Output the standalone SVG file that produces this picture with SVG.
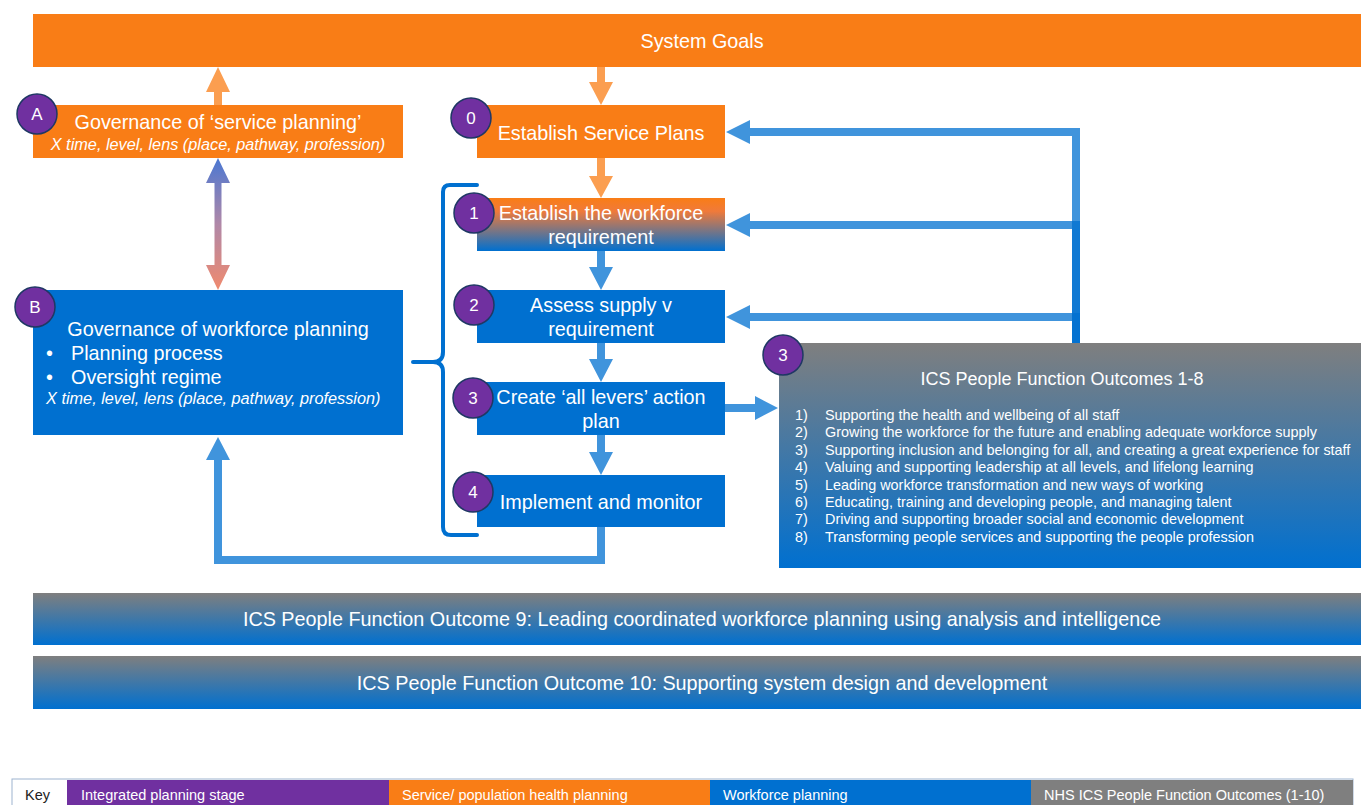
<svg xmlns="http://www.w3.org/2000/svg" width="1361" height="805" viewBox="0 0 1361 805">
  <defs>
    <linearGradient id="gOrangeBlue" x1="0" y1="0" x2="0" y2="1">
      <stop offset="0" stop-color="#F97D16"/>
      <stop offset="0.25" stop-color="#F07A3A"/>
      <stop offset="1" stop-color="#0070D0"/>
    </linearGradient>
    <linearGradient id="gGreyBlue" x1="0" y1="0" x2="0" y2="1">
      <stop offset="0" stop-color="#7F7F7F"/>
      <stop offset="1" stop-color="#0070D0"/>
    </linearGradient>
    <linearGradient id="gGov" gradientUnits="userSpaceOnUse" x1="0" y1="158" x2="0" y2="290">
      <stop offset="0" stop-color="#4A77D2"/>
      <stop offset="0.5" stop-color="#B088A8"/>
      <stop offset="1" stop-color="#F08A6E"/>
    </linearGradient>
    <style>
      text { font-family: "Liberation Sans", Arial, sans-serif; fill: #FFFFFF; }
      .orange { fill: #F97D16; }
      .blue { fill: #0070D0; }
      .grey { fill: #7F7F7F; }
      .purple { fill: #7030A0; }
      .step circle { fill: #7030A0; stroke: #1F3864; stroke-width: 1.5; }
      .step text { font-size: 17px; text-anchor: middle; }
      .t20 { font-size: 19.8px; }
      .t18 { font-size: 18px; }
      .mid { text-anchor: middle; }
      .ital { font-size: 16.3px; font-style: italic; }
      .list { font-size: 14.4px; }
      .key { font-size: 14.5px; }
      .arr-o { fill: #F97D16; fill-opacity: 0.75; }
      .arr-b { fill: #0070D0; fill-opacity: 0.75; }
      .brace { fill: none; stroke: #0070D0; stroke-width: 4; stroke-linecap: round; }
    </style>
  </defs>

  <rect width="1361" height="805" fill="#FFFFFF"/>

  <!-- System goals banner -->
  <g id="system-goals">
    <rect class="orange" x="33" y="14" width="1328" height="53"/>
    <text class="t20 mid" x="702" y="48">System Goals</text>
  </g>

  <!-- Connectors -->
  <g id="connectors">
    <!-- A up to system goals -->
    <path class="arr-o" d="M214,105 V92 H206 L218,67 L230,92 H222 V105 Z"/>
    <!-- system goals down to 0 -->
    <path class="arr-o" d="M597,67 H605 V82 H613 L601,105 L589,82 H597 Z"/>
    <!-- 0 to 1 -->
    <path class="arr-o" d="M597,158 H605 V176 H613 L601,198 L589,176 H597 Z"/>
    <!-- A <-> B -->
    <path fill="url(#gGov)" d="M218,158 L230,183 H221.5 V265 H230 L218,290 L206,265 H214.5 V183 H206 Z"/>
    <!-- workforce steps -->
    <path class="arr-b" d="M597,251 H605 V267 H613 L601,290 L589,267 H597 Z"/>
    <path class="arr-b" d="M597,343 H605 V359 H613 L601,382 L589,359 H597 Z"/>
    <path class="arr-b" d="M597,435 H605 V452 H613 L601,475 L589,452 H597 Z"/>
    <!-- 3 to outcomes -->
    <path class="arr-b" d="M725,404 H755 V396 L778,408 L755,420 V412 H725 Z"/>
    <!-- outcomes feedback to 0, 1, 2 -->
    <path class="arr-b" d="M1072,343 V136 H750 V144 L726,132 L750,120 V128 H1080 V343 Z"/>
    <path class="arr-b" d="M1072,343 V229 H750 V237 L726,225 L750,213 V221 H1080 V343 Z"/>
    <path class="arr-b" d="M1072,343 V321 H750 V329 L726,317 L750,305 V313 H1080 V343 Z"/>
    <!-- 4 back to B -->
    <path class="arr-b" d="M597,527 H605 V564 H214 V460 H206 L218,437 L230,460 H222 V556 H597 Z"/>
    <!-- brace grouping steps 1-4 -->
    <path class="brace" d="M477,185 H450 Q443,185 443,192 V352 Q443,362 433,362 H413 M433,362 Q443,362 443,372 V527 Q443,535 451,535 H477"/>
  </g>

  <!-- A: governance of service planning -->
  <g id="node-a">
    <rect class="orange" x="33" y="105" width="370" height="53"/>
    <text class="t20 mid" x="218" y="129">Governance of ‘service planning’</text>
    <text class="ital mid" x="218" y="150">X time, level, lens (place, pathway, profession)</text>
    <g class="step"><circle cx="37" cy="114" r="20"/><text x="37" y="120">A</text></g>
  </g>

  <!-- B: governance of workforce planning -->
  <g id="node-b">
    <rect class="blue" x="33" y="290" width="370" height="145"/>
    <text class="t20 mid" x="218" y="336">Governance of workforce planning</text>
    <text class="t20" x="46" y="360">•</text>
    <text class="t20" x="71" y="360">Planning process</text>
    <text class="t20" x="46" y="384">•</text>
    <text class="t20" x="71" y="384">Oversight regime</text>
    <text class="ital" x="46" y="404">X time, level, lens (place, pathway, profession)</text>
    <g class="step"><circle cx="35" cy="307" r="20"/><text x="35" y="313">B</text></g>
  </g>

  <!-- 0: establish service plans -->
  <g id="node-0">
    <rect class="orange" x="477" y="105" width="248" height="53"/>
    <text class="t20 mid" x="601" y="140">Establish Service Plans</text>
    <g class="step"><circle cx="471" cy="118" r="20"/><text x="471" y="124">0</text></g>
  </g>

  <!-- 1: establish the workforce requirement -->
  <g id="node-1">
    <rect fill="url(#gOrangeBlue)" x="477" y="198" width="248" height="53"/>
    <text class="t20 mid" x="601" y="220">Establish the workforce</text>
    <text class="t20 mid" x="601" y="244">requirement</text>
    <g class="step"><circle cx="474" cy="213" r="20"/><text x="474" y="219">1</text></g>
  </g>

  <!-- 2: assess supply -->
  <g id="node-2">
    <rect class="blue" x="477" y="290" width="248" height="53"/>
    <text class="t20 mid" x="601" y="312">Assess supply v</text>
    <text class="t20 mid" x="601" y="336">requirement</text>
    <g class="step"><circle cx="474" cy="305" r="20"/><text x="474" y="311">2</text></g>
  </g>

  <!-- 3: action plan -->
  <g id="node-3">
    <rect class="blue" x="477" y="382" width="248" height="53"/>
    <text class="t20 mid" x="601" y="404">Create ‘all levers’ action</text>
    <text class="t20 mid" x="601" y="428">plan</text>
    <g class="step"><circle cx="473" cy="398" r="20"/><text x="473" y="404">3</text></g>
  </g>

  <!-- 4: implement -->
  <g id="node-4">
    <rect class="blue" x="477" y="475" width="248" height="52"/>
    <text class="t20 mid" x="601" y="509">Implement and monitor</text>
    <g class="step"><circle cx="473" cy="492" r="20"/><text x="473" y="498">4</text></g>
  </g>

  <!-- outcomes 1-8 -->
  <g id="node-outcomes">
    <rect fill="url(#gGreyBlue)" x="779" y="343" width="582" height="225"/>
    <text class="t18 mid" x="1062" y="385">ICS People Function Outcomes 1-8</text>
    <g class="list">
      <text x="795" y="420">1)</text><text x="825" y="420">Supporting the health and wellbeing of all staff</text>
      <text x="795" y="437.4">2)</text><text x="825" y="437.4">Growing the workforce for the future and enabling adequate workforce supply</text>
      <text x="795" y="454.8">3)</text><text x="825" y="454.8">Supporting inclusion and belonging for all, and creating a great experience for staff</text>
      <text x="795" y="472.2">4)</text><text x="825" y="472.2">Valuing and supporting leadership at all levels, and lifelong learning</text>
      <text x="795" y="489.6">5)</text><text x="825" y="489.6">Leading workforce transformation and new ways of working</text>
      <text x="795" y="507">6)</text><text x="825" y="507">Educating, training and developing people, and managing talent</text>
      <text x="795" y="524.4">7)</text><text x="825" y="524.4">Driving and supporting broader social and economic development</text>
      <text x="795" y="541.8">8)</text><text x="825" y="541.8">Transforming people services and supporting the people profession</text>
    </g>
    <g class="step"><circle cx="783" cy="355" r="20"/><text x="783" y="361">3</text></g>
  </g>

  <!-- outcome 9 -->
  <g id="node-outcome-9">
    <rect fill="url(#gGreyBlue)" x="33" y="593" width="1328" height="52"/>
    <text class="t20 mid" x="702" y="626">ICS People Function Outcome 9: Leading coordinated workforce planning using analysis and intelligence</text>
  </g>

  <!-- outcome 10 -->
  <g id="node-outcome-10">
    <rect fill="url(#gGreyBlue)" x="33" y="656" width="1328" height="53"/>
    <text class="t20 mid" x="702" y="690">ICS People Function Outcome 10: Supporting system design and development</text>
  </g>

  <!-- colour key -->
  <g id="key">
    <rect x="12" y="779" width="1341" height="30" fill="#FFFFFF" stroke="#9DB4D0" stroke-width="1"/>
    <text class="key" x="25" y="800" style="fill:#222222">Key</text>
    <rect class="purple" x="67" y="780" width="322" height="29"/>
    <rect class="orange" x="389" y="780" width="321" height="29"/>
    <rect class="blue" x="710" y="780" width="321" height="29"/>
    <rect class="grey" x="1031" y="780" width="322" height="29"/>
    <text class="key" x="81" y="800">Integrated planning stage</text>
    <text class="key" x="402" y="800">Service/ population health planning</text>
    <text class="key" x="723" y="800">Workforce planning</text>
    <text class="key" x="1044" y="800">NHS ICS People Function Outcomes (1-10)</text>
  </g>
</svg>
